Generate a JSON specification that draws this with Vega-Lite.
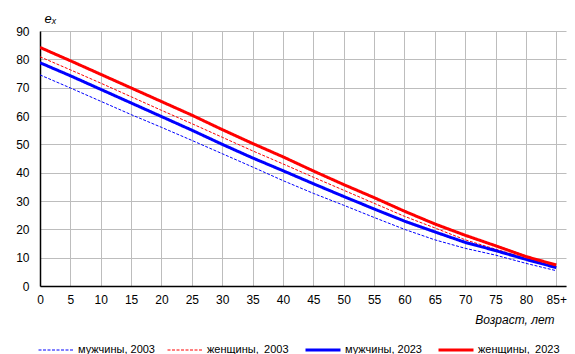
{
  "$schema": "https://vega.github.io/schema/vega-lite/v6.json",
  "width": 526,
  "height": 255,
  "autosize": {"type": "none"},
  "padding": {"left": 40, "top": 31, "right": 9, "bottom": 68},
  "background": "white",
  "config": {
    "view": {"stroke": null},
    "font": "Liberation Sans",
    "axis": {"labelFont": "Liberation Sans", "titleFont": "Liberation Sans", "labelColor": "#000", "titleColor": "#000"}
  },
  "data": {
    "values": [
      {"age": 0, "s": "m2003", "e": 74.5}, {"age": 5, "s": "m2003", "e": 69.9}, {"age": 10, "s": "m2003", "e": 65.2}, {"age": 15, "s": "m2003", "e": 60.5}, {"age": 20, "s": "m2003", "e": 56.0}, {"age": 25, "s": "m2003", "e": 51.4}, {"age": 30, "s": "m2003", "e": 46.7}, {"age": 35, "s": "m2003", "e": 42.0}, {"age": 40, "s": "m2003", "e": 37.2}, {"age": 45, "s": "m2003", "e": 32.7}, {"age": 50, "s": "m2003", "e": 28.5}, {"age": 55, "s": "m2003", "e": 24.2}, {"age": 60, "s": "m2003", "e": 20.0}, {"age": 65, "s": "m2003", "e": 16.3}, {"age": 70, "s": "m2003", "e": 13.3}, {"age": 75, "s": "m2003", "e": 10.9}, {"age": 80, "s": "m2003", "e": 8.0}, {"age": 85, "s": "m2003", "e": 5.4},
      {"age": 0, "s": "f2003", "e": 80.9}, {"age": 5, "s": "f2003", "e": 76.3}, {"age": 10, "s": "f2003", "e": 71.6}, {"age": 15, "s": "f2003", "e": 66.8}, {"age": 20, "s": "f2003", "e": 62.0}, {"age": 25, "s": "f2003", "e": 57.3}, {"age": 30, "s": "f2003", "e": 52.5}, {"age": 35, "s": "f2003", "e": 47.7}, {"age": 40, "s": "f2003", "e": 43.1}, {"age": 45, "s": "f2003", "e": 38.4}, {"age": 50, "s": "f2003", "e": 33.8}, {"age": 55, "s": "f2003", "e": 29.2}, {"age": 60, "s": "f2003", "e": 24.6}, {"age": 65, "s": "f2003", "e": 20.5}, {"age": 70, "s": "f2003", "e": 16.3}, {"age": 75, "s": "f2003", "e": 13.0}, {"age": 80, "s": "f2003", "e": 9.8}, {"age": 85, "s": "f2003", "e": 7.0},
      {"age": 0, "s": "m2023", "e": 78.8}, {"age": 5, "s": "m2023", "e": 74.2}, {"age": 10, "s": "m2023", "e": 69.4}, {"age": 15, "s": "m2023", "e": 64.6}, {"age": 20, "s": "m2023", "e": 59.8}, {"age": 25, "s": "m2023", "e": 55.0}, {"age": 30, "s": "m2023", "e": 50.0}, {"age": 35, "s": "m2023", "e": 45.2}, {"age": 40, "s": "m2023", "e": 40.7}, {"age": 45, "s": "m2023", "e": 36.1}, {"age": 50, "s": "m2023", "e": 31.6}, {"age": 55, "s": "m2023", "e": 27.2}, {"age": 60, "s": "m2023", "e": 22.9}, {"age": 65, "s": "m2023", "e": 19.1}, {"age": 70, "s": "m2023", "e": 15.4}, {"age": 75, "s": "m2023", "e": 12.5}, {"age": 80, "s": "m2023", "e": 9.4}, {"age": 85, "s": "m2023", "e": 6.5},
      {"age": 0, "s": "f2023", "e": 84.2}, {"age": 5, "s": "f2023", "e": 79.5}, {"age": 10, "s": "f2023", "e": 74.7}, {"age": 15, "s": "f2023", "e": 69.9}, {"age": 20, "s": "f2023", "e": 65.1}, {"age": 25, "s": "f2023", "e": 60.3}, {"age": 30, "s": "f2023", "e": 55.2}, {"age": 35, "s": "f2023", "e": 50.3}, {"age": 40, "s": "f2023", "e": 45.6}, {"age": 45, "s": "f2023", "e": 40.6}, {"age": 50, "s": "f2023", "e": 35.8}, {"age": 55, "s": "f2023", "e": 31.2}, {"age": 60, "s": "f2023", "e": 26.4}, {"age": 65, "s": "f2023", "e": 21.9}, {"age": 70, "s": "f2023", "e": 17.9}, {"age": 75, "s": "f2023", "e": 14.2}, {"age": 80, "s": "f2023", "e": 10.4}, {"age": 85, "s": "f2023", "e": 7.4}
    ]
  },
  "mark": {"type": "line", "clip": true},
  "encoding": {
    "x": {
      "field": "age", "type": "quantitative",
      "scale": {"domain": [0, 86.6], "nice": false, "zero": true},
      "axis": {
        "values": [0, 5, 10, 15, 20, 25, 30, 35, 40, 45, 50, 55, 60, 65, 70, 75, 80, 85],
        "labelExpr": "datum.value == 85 ? '85+' : datum.label",
        "ticks": false, "labelPadding": 8, "labelFontSize": 12, "labelFlush": false,
        "domainColor": "#000", "domainWidth": 1.5,
        "grid": true, "gridColor": "#BDBDBD", "gridWidth": 1,
        "title": "Возраст, лет", "titleFontStyle": "italic", "titleFontWeight": "normal", "titleFontSize": 12,
        "titleAlign": "right", "titleAnchor": "end", "titleX": 514, "titleY": 33, "titleBaseline": "middle"
      }
    },
    "y": {
      "field": "e", "type": "quantitative",
      "scale": {"domain": [0, 90], "nice": false},
      "axis": {
        "values": [0, 10, 20, 30, 40, 50, 60, 70, 80, 90],
        "ticks": false, "labelPadding": 11, "labelFontSize": 12,
        "domainColor": "#000", "domainWidth": 1.5,
        "grid": true, "gridColor": "#BDBDBD", "gridWidth": 1,
        "title": "eₓ", "titleAngle": 0, "titleFontStyle": "italic", "titleFontWeight": "normal", "titleFontSize": 13,
        "titleAlign": "left", "titleBaseline": "middle", "titleX": 4, "titleY": -13
      }
    },
    "color": {
      "field": "s", "type": "ordinal",
      "scale": {"type": "ordinal", "domain": ["m2003", "f2003", "m2023", "f2023"], "range": ["#0000FF", "#FF0000", "#0000FF", "#FF0000"]},
      "legend": {
        "orient": "none", "legendX": -3, "legendY": 300, "direction": "horizontal", "columns": 4,
        "title": null, "symbolType": "stroke", "symbolSize": 1225, "labelFontSize": 11, "labelFont": "Liberation Sans",
        "labelColor": "#000", "columnPadding": 10, "labelOffset": 3, "labelLimit": 200,
        "labelExpr": "{'m2003': 'мужчины, 2003', 'f2003': 'женщины,\u2009 2003', 'm2023': 'мужчины, 2023', 'f2023': 'женщины,\u2009 2023'}[datum.value]"
      }
    },
    "strokeDash": {
      "field": "s", "type": "ordinal",
      "scale": {"type": "ordinal", "domain": ["m2003", "f2003", "m2023", "f2023"], "range": [[3, 1.5], [3, 1.5], [1, 0], [1, 0]]}
    },
    "strokeWidth": {
      "field": "s", "type": "ordinal",
      "scale": {"type": "ordinal", "domain": ["m2003", "f2003", "m2023", "f2023"], "range": [1, 1, 3, 3]}
    }
  }
}
